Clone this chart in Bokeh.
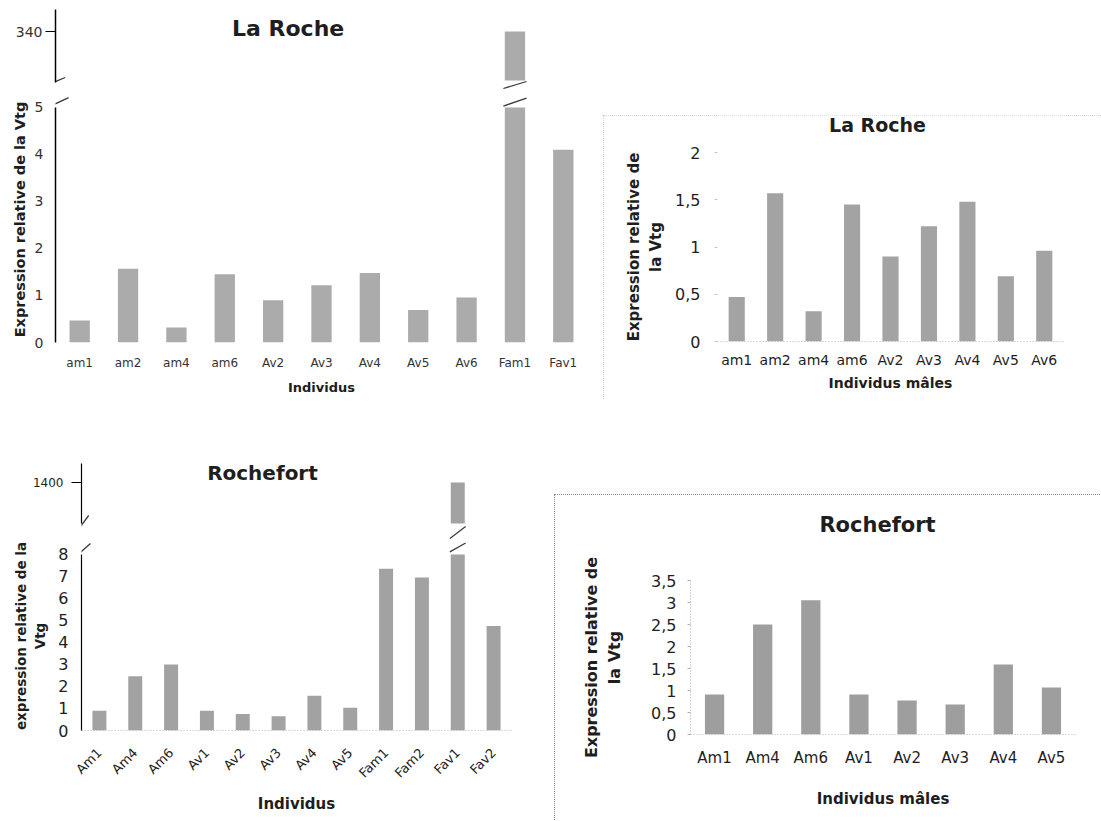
import math
import numpy as np
from bokeh.plotting import figure
from bokeh.layouts import row, column
from bokeh.models import FactorRange, Range1d, FixedTicker, Label, Spacer
from bokeh.embed import file_html
from bokeh.resources import INLINE

FONT = "DejaVu Sans"
TXT = "#1e1e1e"

# ---------------- data ----------------
tl_title = "La Roche"
tl_categories = ["am1", "am2", "am4", "am6", "Av2", "Av3", "Av4", "Av5", "Av6", "Fam1", "Fav1"]
tl_values = [0.47, 1.57, 0.32, 1.45, 0.90, 1.22, 1.48, 0.69, 0.96, 340, 4.10]
tl_lower_ticks = [0, 1, 2, 3, 4, 5]
tl_upper_ticks = [340]

tr_title = "La Roche"
tr_categories = ["am1", "am2", "am4", "am6", "Av2", "Av3", "Av4", "Av5", "Av6"]
tr_values = [0.47, 1.57, 0.32, 1.45, 0.90, 1.22, 1.48, 0.69, 0.96]
tr_ticks = [0, 0.5, 1, 1.5, 2]
tr_tick_labels = ["0", "0,5", "1", "1,5", "2"]

bl_title = "Rochefort"
bl_categories = ["Am1", "Am4", "Am6", "Av1", "Av2", "Av3", "Av4", "Av5", "Fam1", "Fam2", "Fav1", "Fav2"]
bl_values = [0.90, 2.47, 3.00, 0.90, 0.75, 0.65, 1.58, 1.03, 7.35, 6.95, 1400, 4.75]
bl_lower_ticks = [0, 1, 2, 3, 4, 5, 6, 7, 8]
bl_upper_ticks = [1400]

br_title = "Rochefort"
br_categories = ["Am1", "Am4", "Am6", "Av1", "Av2", "Av3", "Av4", "Av5"]
br_values = [0.91, 2.50, 3.05, 0.91, 0.77, 0.68, 1.59, 1.07]
br_ticks = [0, 0.5, 1, 1.5, 2, 2.5, 3, 3.5]
br_tick_labels = ["0", "0,5", "1", "1,5", "2", "2,5", "3", "3,5"]


def base_fig(cats, width, height, yr, left, right, top, bottom, xaxis=True):
    p = figure(x_range=FactorRange(*cats), y_range=Range1d(*yr), width=width, height=height,
               min_border_left=left, min_border_right=right, min_border_top=top,
               min_border_bottom=bottom, toolbar_location=None, output_backend="svg",
               title=None, x_axis_location="below" if xaxis else None)
    p.outline_line_color = None
    p.grid.visible = False
    p.background_fill_color = "white"
    p.border_fill_color = "white"
    p.yaxis.minor_tick_line_color = None
    p.yaxis.major_label_text_font = FONT
    p.yaxis.axis_label_text_font = FONT
    p.yaxis.axis_label_text_font_style = "bold"
    p.yaxis.axis_label_text_color = TXT
    p.yaxis.major_label_text_color = TXT
    if xaxis:
        p.xaxis.major_label_text_font = FONT
        p.xaxis.axis_label_text_font = FONT
        p.xaxis.axis_label_text_font_style = "bold"
        p.xaxis.axis_label_text_color = TXT
        p.xaxis.major_label_text_color = TXT
        p.xaxis.major_tick_line_color = None
        p.xaxis.major_tick_out = 0
        p.xaxis.major_tick_in = 0
    return p


def title_label(p, text, x, y, size):
    p.add_layout(Label(x=x, y=y, text=text, text_font=FONT, text_font_style="bold",
                       text_font_size=size, text_align="center", text_baseline="middle",
                       text_color=TXT))


def title_strip(text, width, height, left, right, cx, cy_from_top, size):
    """Axis-less strip carrying a chart title; its frame is aligned with the plot below."""
    t = figure(width=width, height=height, x_range=Range1d(left, width - right),
               y_range=Range1d(0, height), min_border_left=left, min_border_right=right,
               min_border_top=0, min_border_bottom=0, toolbar_location=None,
               output_backend="svg", title=None, x_axis_location=None, y_axis_location=None)
    t.outline_line_color = None
    t.grid.visible = False
    t.background_fill_color = "white"
    t.border_fill_color = "white"
    title_label(t, text, cx, height - cy_from_top, size)
    return t


def slash(p, x0, y0, x1, y1):
    p.segment(x0=[x0], y0=[y0], x1=[x1], y1=[y1], line_color="#3a3a3a", line_width=1.3)


# ================= top-left: La Roche (broken axis) =================
TL_LOW_TOP = 5.234
TL_UP = (281, 362)
TL_UP_BASE = 291
tl_break = tl_lower_ticks[-1]
tl_low_vals = list(np.minimum(tl_values, tl_break))
tl_up_idx = [i for i, v in enumerate(tl_values) if v > tl_break]

tl_up = base_fig(tl_categories, 595, 82, TL_UP, 43, 16, 1, 0, xaxis=False)
tl_up.vbar(x=[tl_categories[i] for i in tl_up_idx], top=[tl_values[i] for i in tl_up_idx],
           bottom=TL_UP_BASE, width=0.42, fill_color="#ababab", line_color=None)
tl_up.yaxis.ticker = FixedTicker(ticks=tl_upper_ticks)
tl_up.yaxis.bounds = (TL_UP_BASE - 2, TL_UP[1])
tl_up.yaxis.axis_line_width = 1.5
tl_up.yaxis.major_tick_out = 10
tl_up.yaxis.major_tick_in = 0
tl_up.yaxis.major_label_standoff = 3
tl_up.yaxis.major_label_text_font_size = "14px"
tl_up.yaxis.major_label_text_color = "#333333"
title_label(tl_up, tl_title, 4.81, 343.5, "22px")
slash(tl_up, -0.29, TL_UP_BASE - 7, 0.2, TL_UP_BASE + 3)
for i in tl_up_idx:
    slash(tl_up, i + 0.26, TL_UP_BASE - 8, i + 0.74, TL_UP_BASE - 1)

tl_low = base_fig(tl_categories, 595, 313, (0, TL_LOW_TOP), 43, 16, 6, 61)
tl_low.vbar(x=tl_categories, top=tl_low_vals, width=0.42, fill_color="#ababab", line_color=None)
tl_low.yaxis.ticker = FixedTicker(ticks=tl_lower_ticks)
tl_low.yaxis.bounds = (0, tl_break)
tl_low.yaxis.axis_line_width = 1.5
tl_low.yaxis.major_tick_out = 0
tl_low.yaxis.major_tick_in = 0
tl_low.yaxis.major_label_standoff = 12
tl_low.yaxis.major_label_text_font_size = "14px"
tl_low.yaxis.major_label_text_color = "#333333"
tl_low.yaxis.axis_label = "Expression relative de la Vtg"
tl_low.yaxis.axis_label_text_font_size = "14.5px"
tl_low.yaxis.axis_label_standoff = 4
tl_low.xaxis.axis_line_color = None
tl_low.xaxis.major_label_standoff = 13
tl_low.xaxis.major_label_text_font_size = "12px"
tl_low.xaxis.major_label_text_color = "#333333"
tl_low.xaxis.axis_label = "Individus"
tl_low.xaxis.axis_label_text_font_size = "13px"
tl_low.xaxis.axis_label_standoff = 7
slash(tl_low, -0.16, tl_break, 0.27, tl_break + 0.21)
for i in tl_up_idx:
    slash(tl_low, i + 0.26, tl_break + 0.03, i + 0.74, tl_break + 0.2)

# ================= top-right: La Roche males =================
tr_head = title_strip(tr_title, 498, 30, 114, 38, 274, 9, "19px")
tr = base_fig(tr_categories, 498, 254, (0, tr_ticks[-1]), 114, 38, 7, 58)
tr.vbar(x=tr_categories, top=tr_values, width=0.42, fill_color="#a3a3a3", line_color=None)
tr.yaxis.ticker = FixedTicker(ticks=tr_ticks)
tr.yaxis.major_label_overrides = {t: s for t, s in zip(tr_ticks, tr_tick_labels)}
tr.yaxis.axis_line_color = None
tr.yaxis.major_tick_out = 3
tr.yaxis.major_tick_in = 0
tr.yaxis.major_tick_line_color = "#c8c8c8"
tr.yaxis.major_label_standoff = 14
tr.yaxis.major_label_text_font_size = "16px"
tr.yaxis.axis_label = "Expression relative de\nla Vtg"
tr.yaxis.axis_label_text_font_size = "15px"
tr.yaxis.axis_label_standoff = 7
tr.xaxis.axis_line_color = "#b5b5b5"
tr.xaxis.axis_line_dash = "1 2"
tr.xaxis.major_label_standoff = 10
tr.xaxis.major_label_text_font_size = "14px"
tr.xaxis.axis_label = "Individus mâles"
tr.xaxis.axis_label_text_font_size = "14px"
tr.xaxis.axis_label_standoff = 4
tr_box = column(tr_head, tr, styles={"outline": "1px dotted #c4c4c4", "outline-offset": "-1px"})

# ================= bottom-left: Rochefort (broken axis) =================
BL_LOW_TOP = 8.59
BL_UP = (1343, 1427)
BL_UP_BASE = 1359
bl_break = bl_lower_ticks[-1]
bl_low_vals = list(np.minimum(bl_values, bl_break))
bl_up_idx = [i for i, v in enumerate(bl_values) if v > bl_break]

bl_up = base_fig(bl_categories, 546, 136, BL_UP, 73, 43, 52, 0, xaxis=False)
bl_up.vbar(x=[bl_categories[i] for i in bl_up_idx], top=[bl_values[i] for i in bl_up_idx],
           bottom=BL_UP_BASE, width=0.39, fill_color="#a2a2a2", line_color=None)
bl_up.yaxis.ticker = FixedTicker(ticks=bl_upper_ticks)
bl_up.yaxis.bounds = (BL_UP_BASE, BL_UP[1] - 8)
bl_up.yaxis.axis_line_width = 1.2
bl_up.yaxis.major_tick_out = 10
bl_up.yaxis.major_tick_in = 0
bl_up.yaxis.major_label_standoff = 8
bl_up.yaxis.major_label_text_font_size = "12px"
title_label(bl_up, bl_title, 5.05, 1410, "20px")
slash(bl_up, -0.11, BL_UP_BASE - 7, 0.2, BL_UP_BASE + 8)
for i in bl_up_idx:
    slash(bl_up, i + 0.28, BL_UP_BASE - 15, i + 0.72, BL_UP_BASE - 3)

bl_low = base_fig(bl_categories, 546, 282, (0, BL_LOW_TOP), 73, 43, 2, 91)
bl_low.vbar(x=bl_categories, top=bl_low_vals, width=0.39, fill_color="#a2a2a2", line_color=None)
bl_low.yaxis.ticker = FixedTicker(ticks=bl_lower_ticks)
bl_low.yaxis.bounds = (0, bl_break)
bl_low.yaxis.axis_line_width = 1.2
bl_low.yaxis.major_tick_out = 0
bl_low.yaxis.major_tick_in = 0
bl_low.yaxis.major_label_standoff = 13
bl_low.yaxis.major_label_text_font_size = "16px"
bl_low.yaxis.axis_label = "expression relative de la\nVtg"
bl_low.yaxis.axis_label_text_font_size = "13.5px"
bl_low.yaxis.axis_label_standoff = 7
bl_low.xaxis.axis_line_color = "#b5b5b5"
bl_low.xaxis.axis_line_dash = "1 2"
bl_low.xaxis.major_label_orientation = math.pi / 4
bl_low.xaxis.major_label_standoff = 20
bl_low.xaxis.major_label_text_font_size = "13px"
bl_low.xaxis.axis_label = "Individus"
bl_low.xaxis.axis_label_text_font_size = "15px"
bl_low.xaxis.axis_label_standoff = 6
slash(bl_low, -0.03, bl_break + 0.09, 0.25, bl_break + 0.5)
for i in bl_up_idx:
    slash(bl_low, i + 0.28, bl_break + 0.12, i + 0.72, bl_break + 0.52)

# ================= bottom-right: Rochefort males =================
br_head = title_strip(br_title, 547, 50, 135, 27, 322, 29, "21px")
br = base_fig(br_categories, 547, 277, (0, br_ticks[-1]), 135, 27, 35, 88)
br.vbar(x=br_categories, top=br_values, width=0.40, fill_color="#9e9e9e", line_color=None)
br.yaxis.ticker = FixedTicker(ticks=br_ticks)
br.yaxis.major_label_overrides = {t: s for t, s in zip(br_ticks, br_tick_labels)}
br.yaxis.axis_line_color = "#a8a8a8"
br.yaxis.axis_line_dash = "1 2"
br.yaxis.major_tick_out = 3
br.yaxis.major_tick_in = 0
br.yaxis.major_tick_line_color = "#b0b0b0"
br.yaxis.major_label_standoff = 11
br.yaxis.major_label_text_font_size = "16px"
br.yaxis.axis_label = "Expression relative de\nla Vtg"
br.yaxis.axis_label_text_font_size = "16px"
br.yaxis.axis_label_standoff = 24
br.xaxis.axis_line_color = "#b5b5b5"
br.xaxis.axis_line_dash = "1 2"
br.xaxis.major_label_standoff = 14
br.xaxis.major_label_text_font_size = "15px"
br.xaxis.axis_label = "Individus mâles"
br.xaxis.axis_label_text_font_size = "15px"
br.xaxis.axis_label_standoff = 20
br_box = column(br_head, br, styles={"border-top": "1px dotted #8a8a8a",
                                     "border-left": "1px dotted #8a8a8a",
                                     "box-sizing": "border-box"})

charts = column(
    row(column(tl_up, tl_low), column(Spacer(width=498, height=107), tr_box)),
    row(column(bl_up, bl_low), column(Spacer(width=547, height=91), br_box)),
)
layout = row(Spacer(width=8, height=821), column(Spacer(width=1093, height=8), charts))

open("out.html", "w").write(file_html(layout, INLINE, "Expression relative de la Vtg"))
